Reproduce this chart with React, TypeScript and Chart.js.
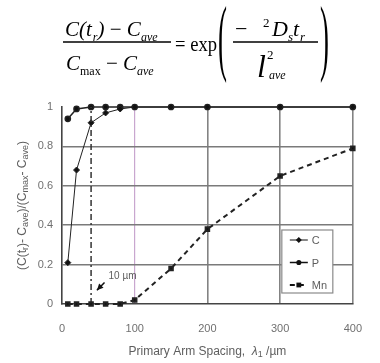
import React, { useEffect, useRef } from 'react';
import { Chart, registerables } from 'chart.js';

Chart.register(...registerables);

// ---- data ----
const spacing = [8, 20, 40, 60, 80, 100, 150, 200, 300, 400];
const seriesC = [0.21, 0.68, 0.92, 0.97, 0.99, 1, 1, 1, 1, 1];
const seriesP = [0.94, 0.99, 1, 1, 1, 1, 1, 1, 1, 1];
const seriesMn = [0, 0, 0, 0, 0, 0.02, 0.18, 0.38, 0.65, 0.79];
const seriesNames = ['C', 'P', 'Mn'];
const markerLineX = [40, 40];
const markerLineY = [0, 1];
const xTicks = [0, 100, 200, 300, 400];
const yTicks = [0, 0.2, 0.4, 0.6, 0.8, 1];
const noteLabel = '10 µm';
const noteTip = [48, 0.07];
const noteText = [64, 0.14];

type Part = { t: string; sub?: boolean; it?: boolean };
const xTitle: Part[] = [
  { t: 'Primary Arm Spacing,  ' },
  { t: 'λ', it: true },
  { t: '1', sub: true },
  { t: ' /µm' },
];
const yTitle: Part[] = [
  { t: '(C(t' }, { t: 'r', sub: true }, { t: ')- C' }, { t: 'ave', sub: true },
  { t: ')/(C' }, { t: 'max', sub: true }, { t: '- C' }, { t: 'ave', sub: true }, { t: ')' },
];

const FONT = "'Liberation Sans', Arial, sans-serif";
const TEXT = '#5e5e5e';

function fontFor(p: Part, size: number) {
  const s = p.sub ? Math.round(size * 0.72) : size;
  return `${p.it ? 'italic ' : ''}${s}px ${FONT}`;
}

function drawRich(ctx: CanvasRenderingContext2D, parts: Part[], cx: number, cy: number, size: number) {
  let total = 0;
  for (const p of parts) {
    ctx.font = fontFor(p, size);
    total += ctx.measureText(p.t).width;
  }
  let x = cx - total / 2;
  ctx.textAlign = 'left';
  ctx.textBaseline = 'middle';
  for (const p of parts) {
    ctx.font = fontFor(p, size);
    ctx.fillText(p.t, x, cy + (p.sub ? 3 : 0));
    x += ctx.measureText(p.t).width;
  }
}

function drawMarker(ctx: CanvasRenderingContext2D, style: string, x: number, y: number, r: number) {
  ctx.beginPath();
  if (style === 'rectRot') {
    ctx.moveTo(x, y - r); ctx.lineTo(x + r, y); ctx.lineTo(x, y + r); ctx.lineTo(x - r, y); ctx.closePath();
  } else if (style === 'rect') {
    ctx.rect(x - r * 0.8, y - r * 0.8, r * 1.6, r * 1.6);
  } else {
    ctx.arc(x, y, r * 0.85, 0, Math.PI * 2);
  }
  ctx.fill();
}

const decorPlugin = {
  id: 'decor',
  afterDraw(chart: any) {
    const { ctx, chartArea, scales } = chart;
    const xs = scales.x, ys = scales.y;
    ctx.save();
    ctx.fillStyle = TEXT;
    // x title
    drawRich(ctx, xTitle, (chartArea.left + chartArea.right) / 2, 352, 12);
    // y title
    ctx.save();
    ctx.translate(23, (chartArea.top + chartArea.bottom) / 2);
    ctx.rotate(-Math.PI / 2);
    drawRich(ctx, yTitle, 0, 0, 12);
    ctx.restore();

    // annotation
    const tx = xs.getPixelForValue(noteTip[0]);
    const ty = ys.getPixelForValue(noteTip[1]);
    const lx = xs.getPixelForValue(noteText[0]);
    const ly = ys.getPixelForValue(noteText[1]);
    ctx.font = `10px ${FONT}`;
    ctx.textAlign = 'left';
    ctx.textBaseline = 'middle';
    ctx.fillStyle = TEXT;
    ctx.fillText(noteLabel, lx, ly);
    ctx.strokeStyle = '#111';
    ctx.fillStyle = '#111';
    ctx.lineWidth = 1.5;
    const sx = lx - 4, sy = ly + 6;
    ctx.beginPath();
    ctx.moveTo(sx, sy);
    ctx.lineTo(tx, ty);
    ctx.stroke();
    const ang = Math.atan2(ty - sy, tx - sx);
    ctx.beginPath();
    ctx.moveTo(tx, ty);
    ctx.lineTo(tx - 7 * Math.cos(ang - 0.45), ty - 7 * Math.sin(ang - 0.45));
    ctx.lineTo(tx - 7 * Math.cos(ang + 0.45), ty - 7 * Math.sin(ang + 0.45));
    ctx.closePath();
    ctx.fill();

    // legend box
    const bw = 51, bh = 63;
    const bx = chartArea.right - 20 - bw;
    const by = chartArea.bottom - 11 - bh;
    ctx.fillStyle = '#fff';
    ctx.fillRect(bx, by, bw, bh);
    ctx.strokeStyle = '#8a8a8a';
    ctx.lineWidth = 1.2;
    ctx.strokeRect(bx, by, bw, bh);
    const ds = seriesNames
      .map((n) => chart.data.datasets.find((d: any) => d.label === n))
      .filter(Boolean);
    ds.forEach((d: any, i: number) => {
      const y = by + 10 + i * 22.5;
      ctx.strokeStyle = '#111';
      ctx.lineWidth = d.borderWidth;
      ctx.setLineDash(d.borderDash || []);
      ctx.beginPath();
      ctx.moveTo(bx + 8, y);
      ctx.lineTo(bx + 26, y);
      ctx.stroke();
      ctx.setLineDash([]);
      ctx.fillStyle = '#111';
      drawMarker(ctx, d.pointStyle, bx + 17, y, 3);
      ctx.fillStyle = TEXT;
      ctx.font = `11px ${FONT}`;
      ctx.textAlign = 'left';
      ctx.textBaseline = 'middle';
      ctx.fillText(d.label, bx + 30, y + 1);
    });
    ctx.restore();
  },
};

function ChartView() {
  const ref = useRef<HTMLCanvasElement | null>(null);
  useEffect(() => {
    if (!ref.current) return;
    const pts = (ys: number[]) => spacing.map((x, i) => ({ x, y: ys[i] }));
    const chart = new Chart(ref.current, {
      type: 'scatter',
      data: {
        datasets: [
          {
            label: seriesNames[2], data: pts(seriesMn), showLine: true,
            borderColor: '#222', backgroundColor: '#111', borderWidth: 2, borderDash: [5, 4],
            pointStyle: 'rect', pointRadius: 2.5, clip: false,
          } as any,
          {
            label: 'marker', data: markerLineX.map((x, i) => ({ x, y: markerLineY[i] })), showLine: true,
            borderColor: '#333', borderWidth: 1.5, borderDash: [6, 3, 2, 3], pointRadius: 0, clip: false,
          },
          {
            label: seriesNames[0], data: pts(seriesC), showLine: true,
            borderColor: '#222', backgroundColor: '#111', borderWidth: 1,
            pointStyle: 'rectRot', pointRadius: 3, clip: false,
          } as any,
          {
            label: seriesNames[1], data: pts(seriesP), showLine: true,
            borderColor: '#222', backgroundColor: '#111', borderWidth: 1.5,
            pointStyle: 'circle', pointRadius: 2.6, clip: false,
          } as any,
        ],
      },
      options: {
        animation: false,
        responsive: false,
        layout: { padding: { top: 107, right: 17, left: 0, bottom: 0 } },
        plugins: { legend: { display: false }, tooltip: { enabled: false }, title: { display: false } },
        scales: {
          x: {
            type: 'linear', min: 0, max: 400,
            afterBuildTicks: (s: any) => { s.ticks = xTicks.map((v) => ({ value: v })); },
            afterFit: (s: any) => { s.height = 59; },
            ticks: { padding: 18, color: '#707070', font: { family: FONT, size: 11 }, callback: (v: any) => String(v), maxRotation: 0 },
            grid: {
              drawTicks: false,
              color: (c: any) => (c.tick && c.tick.value === 100 ? '#c9a7cf' : c.tick && c.tick.value === 0 ? 'rgba(0,0,0,0)' : '#838383'),
              lineWidth: (c: any) => (c.tick && c.tick.value === 100 ? 1.2 : 1.6),
            },
            border: { display: true, color: '#444', width: 1.6 },
          },
          y: {
            type: 'linear', min: 0, max: 1,
            afterBuildTicks: (s: any) => { s.ticks = yTicks.map((v) => ({ value: v })); },
            afterFit: (s: any) => { s.width = 62; },
            ticks: { padding: 9, color: '#707070', font: { family: FONT, size: 11 }, callback: (v: any) => String(v) },
            grid: {
              drawTicks: false,
              color: (c: any) => (c.tick && (c.tick.value === 0 || c.tick.value === 1) ? 'rgba(0,0,0,0)' : '#7a7a7a'),
              lineWidth: 1.6,
            },
            border: { display: true, color: '#444', width: 1.6 },
          },
        },
      },
      plugins: [decorPlugin],
    } as any);
    return () => chart.destroy();
  }, []);
  return <canvas ref={ref} width={380} height={363} style={{ display: 'block', width: 380, height: 363 }} />;
}

function Formula() {
  const serif = "'Liberation Serif', 'Times New Roman', serif";
  const it = { fontFamily: serif, fontStyle: 'italic' as const };
  const up = { fontFamily: serif, fontStyle: 'normal' as const };
  return (
    <svg width={380} height={100} style={{ position: 'absolute', left: 0, top: 0 }}>
      {/* left fraction */}
      <text x={65} y={36} fontSize={21} {...it}>
        C(t<tspan fontSize={12} dy={5} dx={1}>r</tspan><tspan dy={-5}>)</tspan>
        <tspan {...up}> − </tspan>C<tspan fontSize={12} dy={5}>ave</tspan>
      </text>
      <line x1={63} x2={171} y1={42} y2={42} stroke="#000" strokeWidth={1.5} />
      <text x={66} y={70} fontSize={21} {...it}>
        C<tspan fontSize={12} dy={5} {...up}>max</tspan><tspan dy={-5} {...up}> − </tspan>C<tspan fontSize={12} dy={5}>ave</tspan>
      </text>
      <text x={175} y={51} fontSize={22} textLength={42} lengthAdjust="spacingAndGlyphs" {...up}>= exp</text>
      <g transform="translate(218,65) scale(0.32,1)">
        <text x={0} y={0} fontSize={84} {...up}>(</text>
      </g>
      {/* right fraction */}
      <text x={235} y={36} fontSize={22} {...up}>−</text>
      <text x={263} y={27} fontSize={13} {...up}>2</text>
      <text x={272} y={36} fontSize={22} {...it}>
        D<tspan fontSize={13} dy={5}>s</tspan><tspan dy={-5}>t</tspan><tspan fontSize={13} dy={5} dx={1}>r</tspan>
      </text>
      <line x1={233} x2={318} y1={42} y2={42} stroke="#000" strokeWidth={1.5} />
      <text x={257} y={77} fontSize={32} {...it}>l</text>
      <text x={267} y={59} fontSize={13} {...up}>2</text>
      <text x={269} y={79} fontSize={12} {...it}>ave</text>
      <g transform="translate(320,65) scale(0.32,1)">
        <text x={0} y={0} fontSize={84} {...up}>)</text>
      </g>
    </svg>
  );
}

export default function App() {
  return (
    <div style={{ position: 'fixed', left: 0, top: 0, width: 380, height: 363, background: '#fff', overflow: 'hidden' }}>
      <ChartView />
      <Formula />
    </div>
  );
}
